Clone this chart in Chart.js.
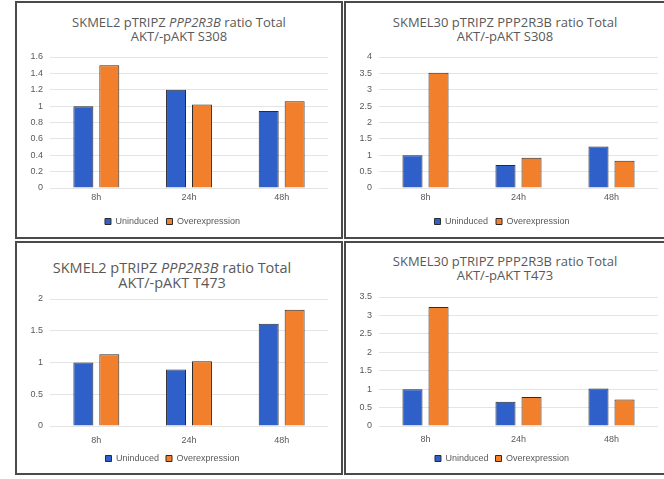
<!DOCTYPE html>
<html lang="en">
<head>
    <meta charset="UTF-8">
    <title>pTRIPZ PPP2R3B ratio Total AKT/-pAKT</title>
    <script src="https://cdn.jsdelivr.net/npm/chart.js"></script>
    <style>
        body {
            margin: 0;
            width: 664px;
            height: 479px;
            background: #ffffff;
            position: relative;
            overflow: hidden;
            font-family: "Open Sans", sans-serif;
        }
        .panel {
            position: absolute;
            box-sizing: border-box;
            border: 2px solid #4a4a4a;
            background: #ffffff;
        }
        .title {
            position: absolute;
            left: 0;
            right: 0;
            text-align: center;
            color: #595959;
            font-size: 13px;
            line-height: 14px;
        }
        .chart-box {
            position: absolute;
            left: 0;
            top: 0;
            right: 0;
            bottom: 0;
        }
    </style>
</head>
<body>
    <div class="panel" style="left:15px; top:1px; width:328px; height:238px;">
        <div class="title" style="top:12px;">SKMEL2 pTRIPZ <i>PPP2R3B</i> ratio Total<br>AKT/-pAKT S308</div>
        <div class="chart-box"><canvas id="c1"></canvas></div>
    </div>
    <div class="panel" style="left:344px; top:1px; width:322px; height:238px;">
        <div class="title" style="top:12px;">SKMEL30 pTRIPZ PPP2R3B ratio Total<br>AKT/-pAKT S308</div>
        <div class="chart-box"><canvas id="c2"></canvas></div>
    </div>
    <div class="panel" style="left:15px; top:241px; width:328px; height:234px;">
        <div class="title" style="top:17px; font-size:14.5px; line-height:15px; right:14px;">SKMEL2 pTRIPZ <i>PPP2R3B</i> ratio Total<br>AKT/-pAKT T473</div>
        <div class="chart-box"><canvas id="c3"></canvas></div>
    </div>
    <div class="panel" style="left:344px; top:241px; width:322px; height:234px;">
        <div class="title" style="top:11px;">SKMEL30 pTRIPZ PPP2R3B ratio Total<br>AKT/-pAKT T473</div>
        <div class="chart-box"><canvas id="c4"></canvas></div>
    </div>
    <script>
        const categories = ['8h', '24h', '48h'];
        const seriesNames = ['Uninduced', 'Overexpression'];

        // SKMEL2, S308
        const skmel2S308Uninduced = [1.0, 1.2, 0.94];
        const skmel2S308Overexp = [1.5, 1.02, 1.06];
        // SKMEL30, S308
        const skmel30S308Uninduced = [1.0, 0.7, 1.27];
        const skmel30S308Overexp = [3.52, 0.92, 0.83];
        // SKMEL2, T473
        const skmel2T473Uninduced = [1.0, 0.89, 1.61];
        const skmel2T473Overexp = [1.13, 1.02, 1.83];
        // SKMEL30, T473
        const skmel30T473Uninduced = [1.0, 0.66, 1.02];
        const skmel30T473Overexp = [3.23, 0.79, 0.72];

        const blue = '#2f5fc9';
        const orange = '#f27f2c';
        const textGrey = '#595959';

        function makeChart(id, uninduced, overexp, yMax, yStep, pad, xPad, legendPad) {
            const ctx = document.getElementById(id).getContext('2d');
            return new Chart(ctx, {
                type: 'bar',
                data: {
                    labels: categories,
                    datasets: [{
                        label: seriesNames[0],
                        data: uninduced,
                        backgroundColor: blue,
                        borderColor: '#2b2b2b',
                        borderWidth: 1
                    }, {
                        label: seriesNames[1],
                        data: overexp,
                        backgroundColor: orange,
                        borderColor: '#2b2b2b',
                        borderWidth: 1
                    }]
                },
                options: {
                    responsive: true,
                    maintainAspectRatio: false,
                    animation: false,
                    categoryPercentage: 0.56,
                    barPercentage: 0.77,
                    layout: {
                        padding: pad
                    },
                    scales: {
                        x: {
                            grid: { display: false, drawTicks: false },
                            border: { display: false },
                            ticks: {
                                color: textGrey,
                                font: { size: 9 },
                                padding: xPad
                            },
                            afterFit: s => { s.height = 21; }
                        },
                        y: {
                            min: 0,
                            max: yMax,
                            ticks: {
                                stepSize: yStep,
                                color: textGrey,
                                font: { size: 9 },
                                padding: 7,
                                callback: v => String(Number(v.toFixed(2)))
                            },
                            grid: {
                                color: '#e4e4e4',
                                drawTicks: false
                            },
                            border: { display: false },
                            afterFit: s => { s.width = 33; }
                        }
                    },
                    plugins: {
                        legend: {
                            position: 'bottom',
                            labels: {
                                color: textGrey,
                                font: { size: 9 },
                                boxWidth: 6,
                                boxHeight: 6,
                                padding: legendPad
                            }
                        },
                        tooltip: { enabled: false }
                    }
                }
            });
        }

        makeChart('c1', skmel2S308Uninduced, skmel2S308Overexp, 1.6, 0.2, { top: 54, right: 13, left: 0, bottom: 1 }, 4, 8);
        makeChart('c2', skmel30S308Uninduced, skmel30S308Overexp, 4, 0.5, { top: 54, right: 6, left: 0, bottom: 1 }, 4, 8);
        makeChart('c3', skmel2T473Uninduced, skmel2T473Overexp, 2, 0.5, { top: 56, right: 13, left: 0, bottom: 0 }, 9, 7);
        makeChart('c4', skmel30T473Uninduced, skmel30T473Overexp, 3.5, 0.5, { top: 54, right: 6, left: 0, bottom: 0 }, 8, 7);
    </script>
</body>
</html>
